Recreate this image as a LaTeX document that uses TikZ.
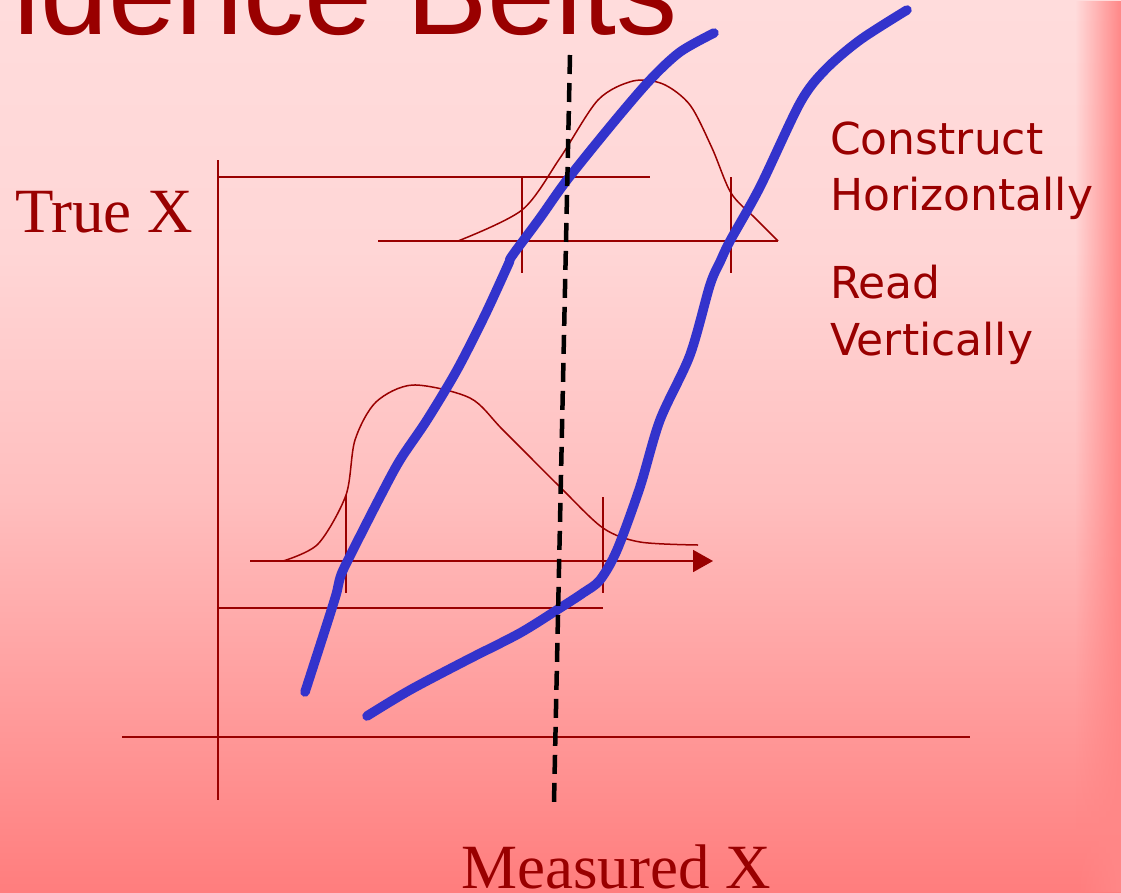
\documentclass[tikz,border=0pt]{standalone}
\usepackage{fontspec}
\setmainfont{Liberation Serif}
\newfontfamily\titlefont{Liberation Sans}
\newfontfamily\notefont{DejaVu Sans}
\usetikzlibrary{arrows.meta,fadings}
\definecolor{darkred}{RGB}{153,0,0}
\definecolor{beltblue}{RGB}{51,51,204}
\definecolor{bgtop}{RGB}{255,220,220}
\definecolor{bgupper}{RGB}{255,214,214}
\definecolor{bgmid}{RGB}{255,190,190}
\definecolor{bglow}{RGB}{255,156,156}
\definecolor{bgbot}{RGB}{255,125,125}
\definecolor{edgecol}{RGB}{255,135,135}
\pgfdeclareverticalshading{slidebg}{100bp}{color(0bp)=(bgbot); color(25bp)=(bgbot); color(35.5bp)=(bglow); color(47bp)=(bgmid); color(61bp)=(bgupper); color(75bp)=(bgtop); color(100bp)=(bgtop)}
\tikzfading[name=edgefade, left color=transparent!100, right color=transparent!0]
\begin{document}
\begin{tikzpicture}[x=1pt,y=-1pt,
  axisline/.style={darkred,line width=1.8pt},
  dist/.style={darkred,line width=1.5pt},
  belt/.style={beltblue,line width=9.5pt,line cap=round,line join=round},
  readline/.style={black,line width=4.5pt,dash pattern=on 19pt off 9pt},
  serifbig/.style={darkred,font=\fontsize{63}{70}\selectfont,inner sep=0pt,anchor=base west},
  note/.style={darkred,font=\notefont\fontsize{44}{52}\selectfont,inner sep=0pt,anchor=base west}]
% background
\shade[shading=slidebg] (0,0) rectangle (1121,892);
\fill[edgecol,path fading=edgefade] (1075,0) rectangle (1121,892);
\useasboundingbox (0,0) rectangle (1121,892);
% title, cut off at the top
\node[darkred,font=\titlefont\fontsize{122}{130}\selectfont,inner sep=0pt,anchor=base west] (title) at (13,34) {idence Belts};
% axes
\draw[axisline] (218,160) -- (218,800);
\draw[axisline] (122,737) -- (970,737);
% upper distribution
\draw[axisline] (218,177) -- (650,177);
\draw[axisline] (378,241) -- (778,241);
\draw[axisline] (522,177) -- (522,273);
\draw[axisline] (731,177) -- (731,273);
\draw[dist] plot[smooth] coordinates {(458,241) (522,210) (560,158) (598,100) (633,81) (663,84) (690,105) (712,148) (731,193) (755,218) (778,241)};
% lower distribution
\draw[axisline,-{Triangle[length=20pt,width=22pt]}] (250,561) -- (713,561);
\draw[axisline] (218,608) -- (603,608);
\draw[axisline] (346,495) -- (346,593);
\draw[axisline] (603,497) -- (603,593);
\draw[dist] plot[smooth] coordinates {(283,561) (318,544) (346,495) (355,440) (376,402) (413,385) (470,398) (503,430) (560,487) (603,528) (640,542) (698,545)};
% belts
\draw[belt] plot[smooth] coordinates {(305,692) (325,630) (336,595) (341,575) (353,550) (380,497) (400,460) (427,420) (457,370) (485,315) (508,265) (512,256) (540,218) (567,180) (613,123) (650,80) (680,52) (714,33)};
\draw[belt] plot[smooth] coordinates {(367,716) (410,690) (467,660) (520,633) (560,608) (583,593) (600,580) (617,550) (640,487) (660,420) (690,355) (710,285) (720,262) (730,241) (760,187) (800,103) (825,70) (860,40) (907,10)};
% measured value
\coordinate (dtop) at (570,55);
\coordinate (dbot) at (554,802);
\draw[readline] (dtop) -- (dbot);
% labels
\node[serifbig] (truex) at (15,232) {True X};
\node[serifbig] (measx) at (461,888) {Measured X};
\node[note] (cons) at (830,154) {Construct};
\node[note] (horiz) at (830,210) {Horizontally};
\node[note] (read) at (830,298) {Read};
\node[note] (vert) at (830,355) {Vertically};
\end{tikzpicture}
\end{document}
